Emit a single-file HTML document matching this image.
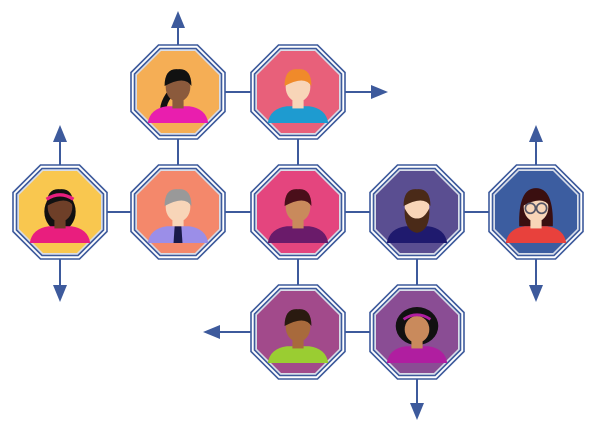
<!DOCTYPE html>
<html><head><style>html,body{margin:0;padding:0;background:#fff}svg{display:block}</style></head>
<body>
<svg width="600" height="425" viewBox="0 0 600 425" xmlns="http://www.w3.org/2000/svg">
<defs>
<g id="fr">
<polygon points="-19.5,-47 19.5,-47 47,-19.5 47,19.5 19.5,47 -19.5,47 -47,19.5 -47,-19.5" fill="#fff" stroke="#3d5a9c" stroke-width="1.6"/>
<polygon points="-18,-43.5 18,-43.5 43.5,-18 43.5,18 18,43.5 -18,43.5 -43.5,18 -43.5,-18" fill="#d8dde8" stroke="#3d5a9c" stroke-width="1.6"/>
</g>
<polygon id="in" points="-17,-41 17,-41 41,-17 41,17 17,41 -17,41 -41,17 -41,-17"/>
<path id="sh" d="M-27,25 Q-25,12 -10,10 L10,10 Q25,12 27,25 Z"/>
<path id="hr" d="M-12,-8 Q-12,-24 0,-23 Q12,-24 12,-8 Q6,-18 -12,-8 Z"/>
</defs>
<g stroke="#3d5a9c" stroke-width="2" fill="none">
<line x1="178" y1="92" x2="298" y2="92"/>
<line x1="178" y1="92" x2="178" y2="212"/>
<line x1="298" y1="92" x2="298" y2="332"/>
<line x1="60" y1="212" x2="536" y2="212"/>
<line x1="417" y1="212" x2="417" y2="332"/>
<line x1="298" y1="332" x2="417" y2="332"/>
<line x1="178" y1="45" x2="178" y2="27"/>
<line x1="345" y1="92" x2="372" y2="92"/>
<line x1="60" y1="165" x2="60" y2="140"/>
<line x1="60" y1="259" x2="60" y2="286"/>
<line x1="536" y1="165" x2="536" y2="140"/>
<line x1="536" y1="259" x2="536" y2="286"/>
<line x1="251" y1="332" x2="219" y2="332"/>
<line x1="417" y1="379" x2="417" y2="404"/>
</g>
<g fill="#3d5a9c">
<polygon points="178,11 171,28 185,28"/>
<polygon points="388,92 371,85 371,99"/>
<polygon points="60,125 53,142 67,142"/>
<polygon points="60,302 53,285 67,285"/>
<polygon points="536,125 529,142 543,142"/>
<polygon points="536,302 529,285 543,285"/>
<polygon points="203,332 220,325 220,339"/>
<polygon points="417,420 410,403 424,403"/>
</g>

<g transform="translate(178,92)"><use href="#fr"/><use href="#in" fill="#f5ae55"/><g transform="translate(0,3) scale(1.12)">
<path d="M-8,-5 Q-20,10 -14,22 L-8,22 Q-14,10 -4,0 Z" fill="#111"/>
<use href="#sh" fill="#e91eae"/><rect x="-5" y="2" width="10" height="10" fill="#8b5a3c"/><ellipse cx="0" cy="-7" rx="11" ry="13" fill="#8b5a3c"/><use href="#hr" fill="#111"/></g></g>

<g transform="translate(298,92)"><use href="#fr"/><use href="#in" fill="#e8607a"/><g transform="translate(0,3) scale(1.12)">
<use href="#sh" fill="#1e9bd0"/><rect x="-5" y="2" width="10" height="10" fill="#f8d5b8"/><ellipse cx="0" cy="-7" rx="11" ry="13" fill="#f8d5b8"/><use href="#hr" fill="#f08a2a"/></g></g>

<g transform="translate(60,212)"><use href="#fr"/><use href="#in" fill="#f9c74f"/><g transform="translate(0,3) scale(1.12)">
<ellipse cx="0" cy="-3" rx="14" ry="17" fill="#111"/>
<use href="#sh" fill="#e91e7e"/><rect x="-5" y="2" width="10" height="10" fill="#6e3f28"/><ellipse cx="0" cy="-7" rx="11" ry="13" fill="#6e3f28"/><use href="#hr" fill="#111"/><path d="M-12,-14 Q0,-22 12,-14" stroke="#e91e7e" stroke-width="3" fill="none"/></g></g>

<g transform="translate(178,212)"><use href="#fr"/><use href="#in" fill="#f4886b"/><g transform="translate(0,3) scale(1.12)">
<use href="#sh" fill="#9b8ee8"/><polygon points="-3,10 3,10 4,25 -4,25" fill="#1a1a4a"/><rect x="-5" y="2" width="10" height="8" fill="#f8d5b8"/><ellipse cx="0" cy="-7" rx="11" ry="13" fill="#f8d5b8"/><use href="#hr" fill="#999"/></g></g>

<g transform="translate(298,212)"><use href="#fr"/><use href="#in" fill="#e4457e"/><g transform="translate(0,3) scale(1.12)">
<use href="#sh" fill="#6a1b6a"/><rect x="-5" y="2" width="10" height="10" fill="#c98a5c"/><ellipse cx="0" cy="-7" rx="11" ry="13" fill="#c98a5c"/><use href="#hr" fill="#4a0f1a"/></g></g>

<g transform="translate(417,212)"><use href="#fr"/><use href="#in" fill="#5a4e91"/><g transform="translate(0,3) scale(1.12)">
<use href="#sh" fill="#1f1a6e"/><rect x="-5" y="2" width="10" height="10" fill="#f8d5b8"/><ellipse cx="0" cy="-7" rx="11" ry="13" fill="#f8d5b8"/><use href="#hr" fill="#4a2a18"/>
<path d="M-11,-6 Q-12,14 0,16 Q12,14 11,-6 Q6,4 0,3 Q-6,4 -11,-6 Z" fill="#4a2a18"/></g></g>

<g transform="translate(536,212)"><use href="#fr"/><use href="#in" fill="#3c5da0"/><g transform="translate(0,3) scale(1.12)">
<path d="M-15,10 Q-16,-24 0,-24 Q16,-24 15,10 Z" fill="#3a0f10"/>
<use href="#sh" fill="#e8413c"/><rect x="-5" y="2" width="10" height="10" fill="#f8d5b8"/><ellipse cx="0" cy="-7" rx="11" ry="13" fill="#f8d5b8"/><use href="#hr" fill="#3a0f10"/>
<circle cx="-5" cy="-6" r="4.5" fill="none" stroke="#556" stroke-width="1.5"/><circle cx="5" cy="-6" r="4.5" fill="none" stroke="#556" stroke-width="1.5"/></g></g>

<g transform="translate(298,332)"><use href="#fr"/><use href="#in" fill="#a24a8b"/><g transform="translate(0,3) scale(1.12)">
<use href="#sh" fill="#9acd32"/><rect x="-5" y="2" width="10" height="10" fill="#a86a3c"/><ellipse cx="0" cy="-7" rx="11" ry="13" fill="#a86a3c"/><use href="#hr" fill="#2a1a10"/></g></g>

<g transform="translate(417,332)"><use href="#fr"/><use href="#in" fill="#8a4d94"/><g transform="translate(0,3) scale(1.12)">
<ellipse cx="0" cy="-8" rx="19" ry="17" fill="#111"/>
<use href="#sh" fill="#b01ea0"/><rect x="-5" y="2" width="10" height="10" fill="#c98a5c"/><ellipse cx="0" cy="-5" rx="11" ry="12" fill="#c98a5c"/><path d="M-12,-14 Q0,-22 12,-14" stroke="#b01ea0" stroke-width="2.5" fill="none"/></g></g>
</svg>
</body></html>
